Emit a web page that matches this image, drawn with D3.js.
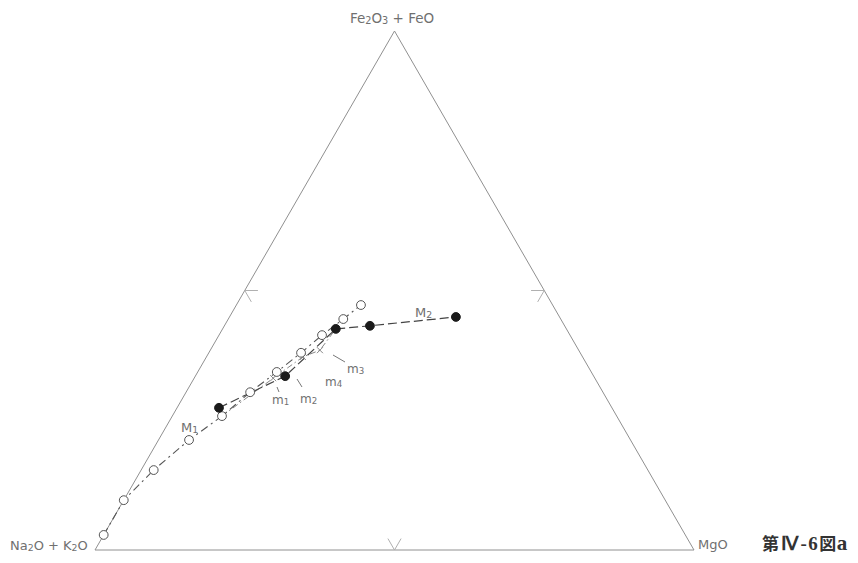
<!DOCTYPE html>
<html><head><meta charset="utf-8">
<script src="https://cdn.jsdelivr.net/npm/d3@7"></script>
<style>body{margin:0;background:#fff}svg{display:block}</style>
</head><body>
<svg id="c" width="858" height="563"></svg>
<script>
// Ternary data: F = Fe2O3+FeO (%), M = MgO (%), remainder = Na2O+K2O
const m1Fe = [2.9, 9.6, 15.4, 21.2, 25.8, 30.4, 34.3, 38.0, 41.4, 44.5, 47.2];
const m1Mg = [0.0, 0.0, 2.1, 5.1, 8.3, 10.7, 13.2, 15.4, 17.2, 19.2, 20.8];
const m2Fe = [27.4, 33.5, 42.6, 43.2, 44.9];
const m2Mg = [7.0, 15.0, 18.9, 24.3, 37.8];
const crossFe = [33.1, 37.2, 38.5];
const crossMg = [13.2, 16.1, 18.3];
const vertexLabels = ["Fe₂O₃ + FeO", "Na₂O + K₂O", "MgO"];
const smallLabels = ["m1", "m2", "m3", "m4"];

const svg = d3.select("#c");
const xS = d3.scaleLinear().domain([0, 100]).range([95, 694]);
const yS = d3.scaleLinear().domain([0, 100]).range([550, 31]);
const px = (F, M) => [xS(M + F / 2), yS(F)];

// triangle
const tri = [px(100, 0), px(0, 0), px(0, 100)];
svg.append("path").attr("d", d3.line()(tri) + "Z")
  .attr("fill", "none").attr("stroke", "#909090").attr("stroke-width", 1);

// mid ticks (short pieces of 50% grid lines)
const tk = 2.2;
const ticks = [
  [[50, 0], [50, tk]], [[50, 0], [50 - tk, tk]],
  [[50, 50], [50, 50 - tk]], [[50, 50], [50 - tk, 50]],
  [[0, 50], [tk, 50 - tk]], [[0, 50], [tk, 50]]
];
ticks.forEach(s => svg.append("path").attr("d", d3.line()(s.map(p => px(p[0], p[1]))))
  .attr("stroke", "#b0b0b0").attr("stroke-width", 1).attr("fill", "none"));

const lineGen = d3.line();
const m1Pts = m1Fe.map((f, i) => px(f, m1Mg[i]));
const m2Pts = m2Fe.map((f, i) => px(f, m2Mg[i]));
const crPts = crossFe.map((f, i) => px(f, crossMg[i]));

// m line through crosses
svg.append("path").attr("d", lineGen([m1Pts[4], ...crPts, m2Pts[2]]))
  .attr("fill", "none").attr("stroke", "#888").attr("stroke-width", 1)
  .attr("stroke-dasharray", "6,3,1.5,3");
// M1 dash-dot
svg.append("path").attr("d", lineGen(m1Pts))
  .attr("fill", "none").attr("stroke", "#555").attr("stroke-width", 1.1)
  .attr("stroke-dasharray", "8,4,2,4");
// M2 dashed
svg.append("path").attr("d", lineGen(m2Pts))
  .attr("fill", "none").attr("stroke", "#444").attr("stroke-width", 1.2)
  .attr("stroke-dasharray", "9,4");

// crosses
crPts.forEach(p => {
  svg.append("path").attr("d", `M${p[0]-3},${p[1]-3}L${p[0]+3},${p[1]+3}M${p[0]-3},${p[1]+3}L${p[0]+3},${p[1]-3}`)
    .attr("stroke", "#888").attr("stroke-width", 1);
});

// open circles
svg.selectAll("circle.o").data(m1Pts).join("circle").attr("class", "o")
  .attr("cx", d => d[0]).attr("cy", d => d[1]).attr("r", 4.4)
  .attr("fill", "#fff").attr("stroke", "#555").attr("stroke-width", 1);
// filled
svg.selectAll("circle.f").data(m2Pts).join("circle").attr("class", "f")
  .attr("cx", d => d[0]).attr("cy", d => d[1]).attr("r", 4.4)
  .attr("fill", "#1a1a1a").attr("stroke", "#1a1a1a");

const font = "'DejaVu Sans', sans-serif";
function sub(g, x, y, parts, size, anchor) {
  const t = g.append("text").attr("x", x).attr("y", y).attr("font-family", font)
    .attr("font-size", size).attr("fill", "#707070").attr("text-anchor", anchor || "start");
  parts.forEach(p => {
    if (p.s) t.append("tspan").attr("font-size", size * 0.72).attr("dy", 1).text(p.s);
    else t.append("tspan").attr("dy", p.after ? -1 : 0).text(p.t);
  });
  return t;
}
// vertex labels
sub(svg, 392, 23, [{t: "Fe"}, {s: "2"}, {t: "O", after: 1}, {s: "3"}, {t: " + FeO", after: 1}], 13.5, "middle");
sub(svg, 10, 550, [{t: "Na"}, {s: "2"}, {t: "O + K", after: 1}, {s: "2"}, {t: "O", after: 1}], 13, "start");
svg.append("text").attr("x", 698).attr("y", 549).attr("font-family", font)
  .attr("font-size", 13).attr("fill", "#707070").text(vertexLabels[2]);
// figure number
const cjk = "'Noto Sans CJK JP', sans-serif", serif = "'Liberation Serif', serif";
const fig = svg.append("text").attr("x", 762).attr("y", 550).attr("fill", "#333").attr("font-weight", "bold");
fig.append("tspan").attr("font-family", cjk).attr("font-size", 17).attr("letter-spacing", 2).text("第");
fig.append("tspan").attr("font-family", serif).attr("font-size", 19).attr("letter-spacing", 1.5).text("Ⅳ-6");
fig.append("tspan").attr("font-family", cjk).attr("font-size", 17).attr("letter-spacing", 0.5).text("図");
fig.append("tspan").attr("font-family", serif).attr("font-size", 21).text("a");

// series labels
sub(svg, 181, 432, [{t: "M"}, {s: "1"}], 13, "start");
sub(svg, 415, 317, [{t: "M"}, {s: "2"}], 13, "start");
const mlab = [[272, 404, "1"], [300, 403, "2"], [347, 373, "3"], [325, 386, "4"]];
mlab.forEach(d => sub(svg, d[0], d[1], [{t: "m"}, {s: d[2]}], 12, "start"));
// leader lines
const leaders = [[[277, 387], [279, 392]], [[297, 379], [302, 387]], [[333, 355], [345, 362]]];
leaders.forEach(s => svg.append("path").attr("d", lineGen(s)).attr("stroke", "#777").attr("stroke-width", 1));
</script>
</body></html>
